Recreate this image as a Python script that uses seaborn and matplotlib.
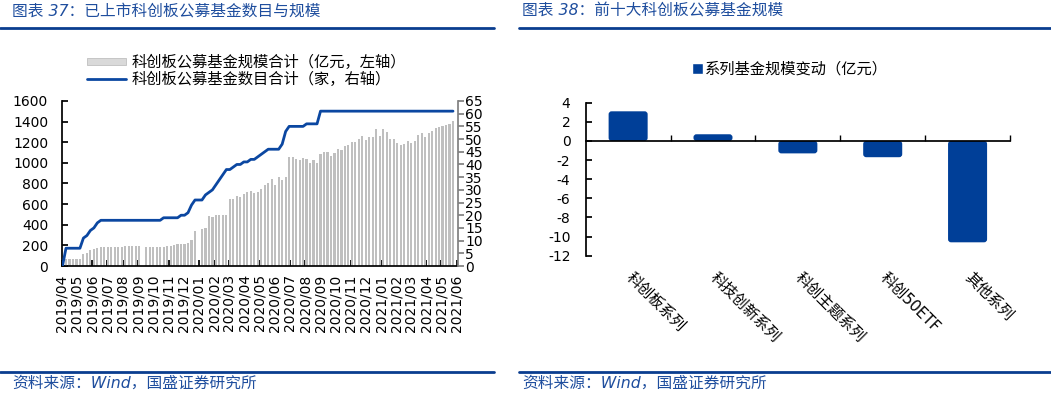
import numpy as np
import pandas as pd
import matplotlib
matplotlib.use("Agg")
import matplotlib.pyplot as plt
import matplotlib.dates as mdates
from matplotlib.patches import Patch, FancyBboxPatch
from matplotlib.lines import Line2D
import seaborn as sns

sns.set_theme(style="ticks")
plt.rcParams["font.family"] = ["DejaVu Sans", "Noto Sans CJK SC"]
plt.rcParams["axes.unicode_minus"] = False
for k in ["text.color", "axes.labelcolor", "xtick.color", "ytick.color", "axes.edgecolor"]:
    plt.rcParams[k] = "black"

# ---------------- data: left panel ----------------
week_dates = pd.date_range("2019-04-02", periods=113, freq="7D")
fund_size = [
    0, 66, 68, 68, 68, 68, 116, 129, 152, 162, 171, 181,
    187, 187, 187, 187, 187, 187, 194, 194, 194, 194, 194, np.nan,
    187, 187, 187, 187, 187, 187, 194, 197, 203, 210, 214, 214, 224,
    252, 339, np.nan, 359, 372, 485, 475, 494, 494, 494, 494,
    650, 650, 679, 669, 698, 714, 724, 708, 718, 743, 785, 805, 843, 785, 860, 830, 866,
    1057, 1057, 1040, 1028, 1050, 1034, 1002, 1028, 999, 1086,
    1109, 1109, 1067, 1092, 1134, 1125, 1163, 1173, 1202, 1202, 1231, 1260, 1222,
    1251, 1251, 1328, 1260, 1328, 1299, 1231, 1231, 1189, 1173, 1180, 1209, 1189,
    1212, 1270, 1286, 1251, 1290, 1312, 1338, 1348, 1357, 1367, 1374, 1409,
]
fund_count = [
    0, 7, 7, 7, 7, 7, 11, 12, 14, 15, 17,
    18, 18, 18, 18, 18, 18, 18, 18, 18, 18, 18, 18, 18, 18, 18, 18, 18, 18,
    19, 19, 19, 19, 19, 20, 20, 21, 24, 26, 26, 26,
    28, 29, 30, 32, 34, 36, 38, 38, 39, 40, 40, 41, 41, 42, 42, 43, 44, 45,
    46, 46, 46, 46, 48, 53, 55, 55, 55, 55, 55, 56, 56, 56, 56,
    61, 61, 61, 61, 61, 61, 61, 61, 61, 61, 61, 61, 61, 61, 61, 61, 61, 61, 61, 61,
    61, 61, 61, 61, 61, 61, 61, 61, 61, 61, 61, 61, 61, 61, 61, 61, 61, 61, 61,
]
month_ticks = pd.date_range("2019-04-01", "2021-06-01", freq="MS")
left_yticks = list(range(0, 1601, 200))
right_yticks = list(range(0, 66, 5))
legend_left = ["科创板公募基金规模合计（亿元，左轴）", "科创板公募基金数目合计（家，右轴）"]

# ---------------- data: right panel ----------------
series_names = ["科创板系列", "科技创新系列", "科创主题系列", "科创50ETF", "其他系列"]
series_change = [3.1, 0.7, -1.3, -1.7, -10.6]
right_ticks = list(range(-12, 5, 2))
legend_right = "系列基金规模变动（亿元）"

title_left = "图表 37：已上市科创板公募基金数目与规模"
title_right = "图表 38：前十大科创板公募基金规模"
source_text = "资料来源：Wind，国盛证券研究所"

BLUE_T = "#1F4E9E"
RULE = "#0A3D8F"
LINE_BLUE = "#0B47A1"
BAR_BLUE = "#003F98"
GRAY = "#BFBFBF"

W, H = 1051, 396
fig = plt.figure(figsize=(W / 100, H / 100), dpi=100)

# ---------- titles, rules, sources ----------
for xpos, txt, ypos in [(12, title_left, 11), (522, title_right, 11),
                        (12, source_text, 383), (522, source_text, 383)]:
    fig.text(xpos / W, 1 - ypos / H, txt, fontsize=11.3, color=BLUE_T, style="italic",
             ha="left", va="center")
for (x0, x1) in [(0, 494), (519, W)]:
    for y in [27.5, 372]:
        fig.add_artist(Line2D([x0 / W, x1 / W], [1 - y / H, 1 - y / H],
                              color=RULE, lw=2.0, transform=fig.transFigure))

# ---------- left panel ----------
axl = fig.add_axes([62 / W, 1 - 266 / H, 396 / W, 165 / H])
dfl = pd.DataFrame({"x": mdates.date2num(week_dates), "size": fund_size, "count": fund_count})
sns.barplot(data=dfl, x="x", y="size", native_scale=True, color=GRAY, saturation=1,
            width=0.62, errorbar=None, linewidth=0, ax=axl)
ax2 = axl.twinx()
sns.lineplot(data=dfl, x="x", y="count", color=LINE_BLUE, lw=2.0, ax=ax2)

xlim = (mdates.date2num(pd.Timestamp("2019-04-01")), mdates.date2num(pd.Timestamp("2021-06-04")))
for a in (axl, ax2):
    a.set_xlim(*xlim)
    a.set_xlabel("")
    a.set_ylabel("")
axl.set_ylim(0, 1600)
axl.set_yticks(left_yticks)
ax2.set_ylim(0, 65)
ax2.set_yticks(right_yticks)
axl.set_xticks(mdates.date2num(month_ticks))
axl.set_xticklabels(month_ticks.strftime("%Y/%m"), rotation=90)
axl.tick_params(axis="x", direction="in", length=4, pad=6, labelsize=10)
axl.tick_params(axis="y", direction="in", length=4, pad=10, labelsize=10)
ax2.tick_params(axis="y", direction="out", length=4, pad=1, labelsize=10,
                colors="#808080", labelcolor="black")
axl.spines["top"].set_visible(False)
axl.spines["right"].set_visible(False)
for s in ["top", "left", "bottom"]:
    ax2.spines[s].set_visible(False)
ax2.spines["right"].set_color("#808080")

handles = [Patch(facecolor="#D9D9D9", edgecolor="#BFBFBF", lw=0.6),
           Line2D([0], [0], color=LINE_BLUE, lw=2.0)]
fig.legend(handles, legend_left, loc="upper left", bbox_to_anchor=(87 / W, 1 - 55 / H),
           frameon=False, fontsize=11, handlelength=2.55, handleheight=0.35,
           handletextpad=0.35, labelspacing=0.1, borderpad=0, borderaxespad=0)

# ---------- right panel ----------
axr = fig.add_axes([585.7 / W, 1 - 255.7 / H, 424.3 / W, 153 / H])
dfr = pd.DataFrame({"name": series_names, "change": series_change})
sns.barplot(data=dfr, x="name", y="change", color=BAR_BLUE, saturation=1, width=0.46,
            errorbar=None, linewidth=0, ax=axr)
axr.set_xlabel("")
axr.set_ylabel("")
axr.set_ylim(-12, 4)
axr.set_yticks(right_ticks)
axr.set_xlim(-0.5, 4.5)

# rounded corners like the original rendering (geometry taken from seaborn's bars)
ppx = 424.3 / 5.0          # pixels per x unit
ppy = 153 / 16.0           # pixels per y unit
for p in list(axr.patches):
    x, y, w, h = p.get_x(), p.get_y(), p.get_width(), p.get_height()
    if h < 0:
        y, h = y + h, -h
    fb = FancyBboxPatch((x, y), w, h,
                        boxstyle=f"round,pad=0,rounding_size={3.0 / ppx}",
                        mutation_aspect=ppx / ppy, facecolor=BAR_BLUE, edgecolor="none",
                        zorder=p.get_zorder())
    p.remove()
    axr.add_patch(fb)

axr.spines["top"].set_visible(False)
axr.spines["right"].set_visible(False)
axr.spines["bottom"].set_position(("data", 0))
axr.spines["bottom"].set_zorder(5)
axr.set_xticks(range(len(series_names)))
axr.set_xticklabels([])
axr.set_xticks(np.arange(0.5, len(series_names), 1.0), minor=True)
axr.tick_params(axis="x", which="major", length=0)
axr.tick_params(axis="x", which="minor", direction="in", length=4)
axr.tick_params(axis="y", direction="in", length=4, pad=11, labelsize=10)

sec = axr.secondary_xaxis("bottom")
sec.set_xticks(range(len(series_names)))
sec.set_xticklabels(series_names, rotation=-45, ha="left", va="center",
                    rotation_mode="anchor", fontsize=11)
sec.tick_params(axis="x", length=0, pad=14)
sec.spines["bottom"].set_visible(False)

fig.legend([Patch(facecolor=BAR_BLUE)], [legend_right], loc="center",
           bbox_to_anchor=(790 / W, 1 - 69 / H), frameon=False, fontsize=11,
           handlelength=0.75, handleheight=0.75, handletextpad=0.1, borderpad=0)

fig.savefig("out.png", dpi=100)
